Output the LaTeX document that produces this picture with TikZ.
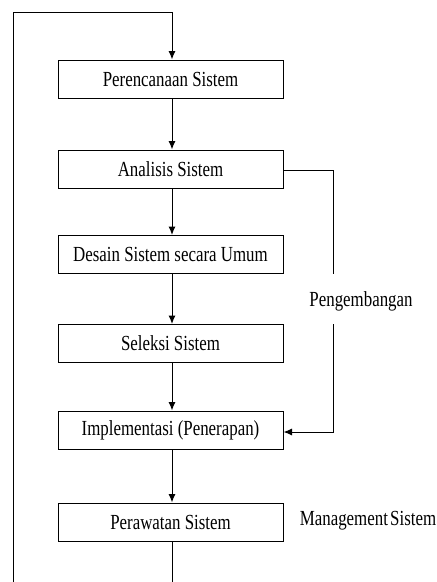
\documentclass[tikz,border=0pt]{standalone}
\usepackage{fontspec}
\setmainfont{Liberation Serif}[FakeStretch=0.785]
\usetikzlibrary{arrows.meta}
\begin{document}
\begin{tikzpicture}[x=1pt,y=-1pt,
  stepbox/.style={draw,line width=1pt,minimum width=225pt,minimum height=38pt,inner sep=0pt,font=\fontsize{21.5}{25}\selectfont},
  lbl/.style={inner sep=0pt,font=\fontsize{21.5}{25}\selectfont},
  ln/.style={line width=1pt},
  arr/.style={line width=1pt,-{Latex[length=8.5pt,width=7pt]}}]
\useasboundingbox (0,0) rectangle (437,582);
\node[stepbox] (b1) at (170.5,79) {Perencanaan Sistem};
\node[stepbox] (b2) at (170.5,169) {Analisis Sistem};
\node[stepbox] (b3) at (170.5,254.5) {Desain Sistem secara Umum};
\node[stepbox] (b4) at (170.5,343.5) {Seleksi Sistem};
\node[stepbox] (b5) at (170.5,430) {Implementasi (Penerapan)};
\node[stepbox] (b6) at (170.5,522) {Perawatan Sistem};
\node[lbl] (peng) at (361,301) {Pengembangan};
\node[lbl] (mgmt) at (368,521) {Management\hspace{-2pt} Sistem};
\coordinate (tl) at (13,12);
\coordinate (bl) at (13,582);
\coordinate (tr) at (172,12);
\coordinate (bb) at (172,582);
\coordinate (r1) at (333,170);
\coordinate (r2) at (333,274);
\coordinate (r3) at (333,324);
\coordinate (r4) at (333,432);
\draw[ln] (bl) -- (tl) -- (tr);
\draw[arr] (tr) -- (tr |- b1.north);
\draw[arr] (b1.south -| tr) -- (b2.north -| tr);
\draw[arr] (b2.south -| tr) -- (b3.north -| tr);
\draw[arr] (b3.south -| tr) -- (b4.north -| tr);
\draw[arr] (b4.south -| tr) -- (b5.north -| tr);
\draw[arr] (b5.south -| tr) -- (b6.north -| tr);
\draw[ln] (b6.south -| tr) -- (bb);
\draw[ln] (b2.east |- r1) -- (r1) -- (r2);
\draw[arr] (r3) -- (r4) -- (b5.east |- r4);
\end{tikzpicture}
\end{document}
